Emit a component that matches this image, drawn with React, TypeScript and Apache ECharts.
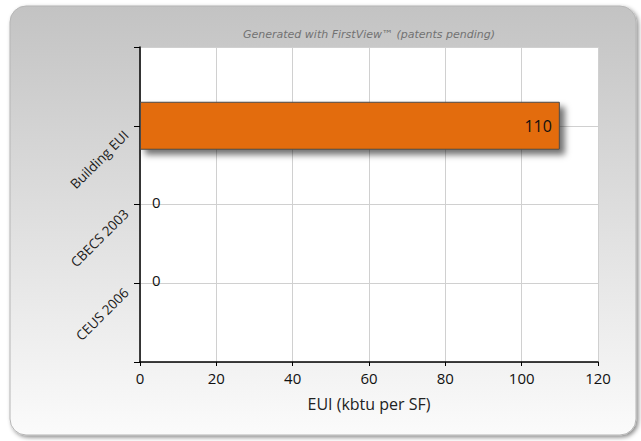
import React, { useEffect, useRef } from "react";
import * as echarts from "echarts";

const categories = ["", "Building EUI", "CBECS 2003", "CEUS 2006", ""];
const values: (number | string)[] = ["-", 110, 0, 0, "-"];
const xTicks = { min: 0, max: 120, interval: 20 };
const titleText = "Generated with FirstView\u2122 (patents pending)";
const xAxisName = "EUI (kbtu per SF)";

export default function App() {
  const ref = useRef<HTMLDivElement>(null);
  useEffect(() => {
    if (!ref.current) return;
    const chart = echarts.init(ref.current, undefined, { renderer: "svg" });
    chart.setOption({
      animation: false,
      backgroundColor: "#ffffff",
      graphic: [
        {
          type: "rect",
          z: -10,
          shape: { x: 10, y: 6, width: 626, height: 429, r: 16 },
          style: {
            fill: new echarts.graphic.LinearGradient(0, 0, 0, 1, [
              { offset: 0, color: "#c3c3c3" },
              { offset: 1, color: "#fbfbfb" },
            ]),
            stroke: "#b5b5b5",
            lineWidth: 1,
            shadowBlur: 4,
            shadowOffsetX: 2,
            shadowOffsetY: 2,
            shadowColor: "rgba(0,0,0,0.45)",
          },
        },
        {
          type: "text",
          left: 243,
          top: 29,
          style: {
            text: titleText,
            fill: "#727272",
            font: "italic 11px 'DejaVu Sans'",
          },
        },
      ],
      grid: {
        left: 140,
        right: 43,
        top: 47,
        bottom: 79,
        show: true,
        backgroundColor: "#ffffff",
        borderWidth: 0,
      },
      xAxis: {
        type: "value",
        min: xTicks.min,
        max: xTicks.max,
        interval: xTicks.interval,
        name: xAxisName,
        nameLocation: "middle",
        nameGap: 34,
        nameTextStyle: { color: "#222", fontSize: 16, fontFamily: "Open Sans" },
        axisLine: { show: true, lineStyle: { color: "#000", width: 1.5 } },
        axisTick: { show: true, length: 4, lineStyle: { color: "#000" } },
        axisLabel: { color: "#111", fontSize: 15, fontFamily: "Open Sans", margin: 8 },
        splitLine: { show: true, lineStyle: { color: "#d0d0d0", width: 1 } },
      },
      yAxis: {
        type: "category",
        data: categories,
        inverse: true,
        boundaryGap: false,
        axisLine: { show: true, lineStyle: { color: "#000", width: 1.5 } },
        axisTick: { show: true, length: 6, lineStyle: { color: "#000" } },
        axisLabel: {
          rotate: 45,
          color: "#1a1a1a",
          fontSize: 13.5,
          fontFamily: "Open Sans",
          margin: 21,
          verticalAlign: "top",
          lineHeight: 20,
        },
        splitLine: { show: true, lineStyle: { color: "#d0d0d0", width: 1 } },
      },
      series: [
        {
          type: "bar",
          data: values,
          barWidth: 48,
          itemStyle: {
            color: "#e36c0a",
            borderColor: "#4a4a4a",
            borderWidth: 1,
            shadowBlur: 6,
            shadowOffsetX: 5,
            shadowOffsetY: 5,
            shadowColor: "rgba(0,0,0,0.55)",
          },
          label: {
            show: true,
            position: "insideRight",
            distance: 8,
            color: "#111",
            fontSize: 16,
            fontFamily: "Open Sans",
            formatter: (p: any) => (p.value > 0 ? String(p.value) : ""),
          },
        },
        {
          type: "bar",
          data: values.map((v) => (v === 0 ? 0 : "-")),
          barGap: "-100%",
          barWidth: 48,
          silent: true,
          itemStyle: { color: "transparent" },
          label: {
            show: true,
            position: "right",
            distance: 12,
            color: "#111",
            fontSize: 15,
            fontFamily: "Open Sans",
            offset: [0, -3],
            formatter: (p: any) => String(p.value),
          },
        },
      ],
    });
    return () => chart.dispose();
  }, []);
  return (
    <div
      ref={ref}
      style={{ position: "fixed", left: 0, top: 0, width: 641, height: 441 }}
    />
  );
}
